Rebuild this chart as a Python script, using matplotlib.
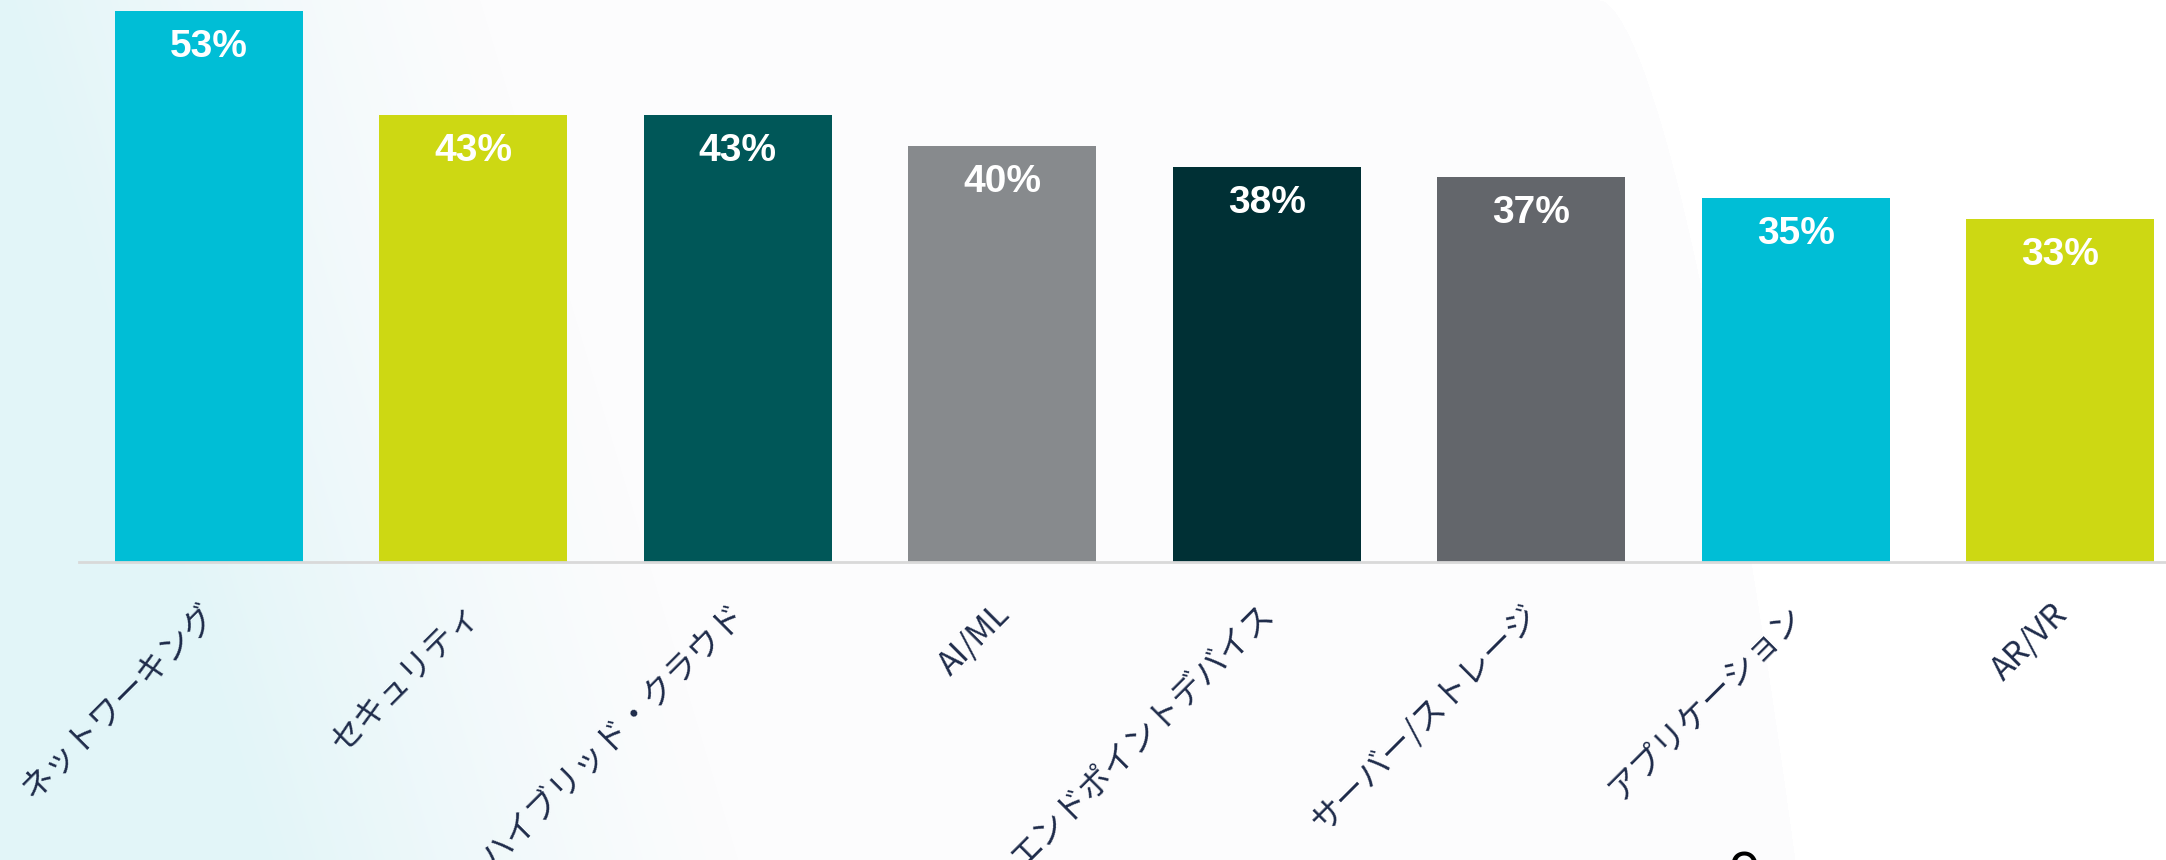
import matplotlib
matplotlib.use('Agg')
import matplotlib.pyplot as plt
import matplotlib.transforms as mtransforms
import numpy as np

# データ
categories = ['ネットワーキング', 'セキュリティ', 'ハイブリッド・クラウド', 'AI/ML',
              'エンドポイントデバイス', 'サーバー/ストレージ', 'アプリケーション', 'AR/VR']
values = [53, 43, 43, 40, 38, 37, 35, 33]
colors = ['#00bed6', '#cdd813', '#005758', '#878a8d',
          '#003035', '#63666b', '#00bed6', '#cdd813']

W, H = 2166, 860
fig = plt.figure(figsize=(W / 100, H / 100), dpi=100)

# 背景（左側の淡いシアンのグラデーション + 曲線の境界）
yy, xx = np.mgrid[0:H, 0:W].astype(float)
base = np.ones((H, W, 3))
boundary = 1600 + 195 * (yy / H) ** 0.6
base[xx < boundary] = np.array([252, 252, 253]) / 255
w = np.clip(1 - (xx - 0.3 * yy) / 480, 0, 1) ** 1.2
cyan = np.array([226, 245, 248]) / 255
bg = base * (1 - w[..., None]) + cyan * w[..., None]
bg_ax = fig.add_axes([0, 0, 1, 1], zorder=-1)
bg_ax.imshow(bg, aspect='auto', extent=[0, 1, 0, 1])
bg_ax.axis('off')

# メインのグラフ
ax = fig.add_axes([79 / W, 1 - 562 / H, 1 - 79 / W, 562 / H])
ax.set_facecolor('none')
x = np.arange(len(categories))
ax.bar(x, values, width=0.71, color=colors, zorder=2)
ax.set_xlim(-0.49, 7.40)
ax.set_ylim(0, 562 / (551 / 53))

for i, v in enumerate(values):
    ax.annotate(f'{v}%', (i, v), xytext=(0, -13), textcoords='offset points',
                ha='center', va='top', color='white', fontsize=28,
                fontweight='bold', fontstretch='condensed',
                family=['Liberation Sans Narrow', 'Liberation Sans'])

for sp in ['top', 'right', 'left']:
    ax.spines[sp].set_visible(False)
ax.spines['bottom'].set_color('#d9d9d9')
ax.spines['bottom'].set_linewidth(2)
ax.set_yticks([])
ax.set_xticks(x)
ax.set_xticklabels(categories, rotation=45, ha='right', va='top',
                   rotation_mode='anchor', fontsize=23.5, color='#1e2b4a',
                   family=['Noto Sans CJK JP', 'DejaVu Sans'])
ax.tick_params(axis='x', length=0, pad=26)
shift = mtransforms.ScaledTranslation(-9 / 100, 0, fig.dpi_scale_trans)
for lbl in ax.get_xticklabels():
    lbl.set_transform(lbl.get_transform() + shift)

# ページ番号（下端で切れている）
fig.text(1744 / W, 1 - 850 / H, '9', fontsize=40, color='black',
         ha='center', va='top', family='Noto Sans')

fig.savefig('out.png', dpi=100)
